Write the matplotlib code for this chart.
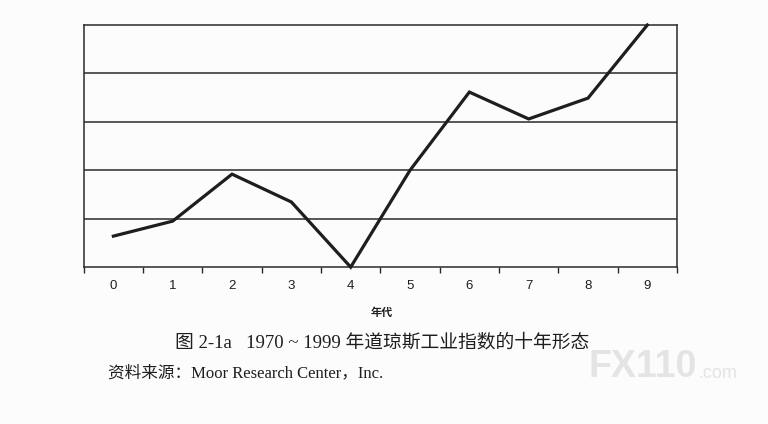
import matplotlib.pyplot as plt
import numpy as np

# Decade pattern of the Dow (index 0-100 scale)
decades = [0, 1, 2, 3, 4, 5, 6, 7, 8, 9]
values = [12.8, 19.0, 38.4, 26.9, 0.0, 40.0, 72.3, 61.2, 69.8, 100.0]
grid_levels = [20, 40, 60, 80]

caption = '图 2-1a   1970 ~ 1999 年道琼斯工业指数的十年形态'
source = '资料来源：Moor Research Center，Inc.'
xlabel = '年代'

plt.rcParams['font.family'] = ['Liberation Sans', 'Noto Sans CJK SC', 'DejaVu Sans']

fig = plt.figure(figsize=(7.68, 4.24), dpi=100)
fig.patch.set_facecolor('#fcfcfc')
ax = fig.add_axes([0.109, 0.370, 0.7725, 0.571])
ax.set_facecolor('#fcfcfc')

# category style x axis: points sit in the middle of each slot
xpos = np.array(decades) + 0.5
ax.plot(xpos, values, color='#1e1e1e', lw=2.3, solid_joinstyle='miter', clip_on=False, zorder=3)

for g in grid_levels:
    ax.axhline(g, color='#2a2a2a', lw=1.1, zorder=1)

ax.set_xlim(0, 10)
ax.set_ylim(0, 100)
ax.set_xticks(np.arange(0, 11))
ax.set_xticklabels([])
ax.set_xticks(xpos, minor=True)
ax.set_xticklabels([str(d) for d in decades], minor=True, fontsize=9.5, color='#1e1e1e')
ax.tick_params(axis='x', which='major', direction='out', length=4.5, width=1.0, color='#2a2a2a')
ax.tick_params(axis='x', which='minor', length=0, pad=9.5)
ax.set_yticks([])
for s in ax.spines.values():
    s.set_color('#2a2a2a')
    s.set_linewidth(1.1)

fig.text(382 / 768, 1 - 313 / 424, xlabel, fontsize=8, fontweight='bold',
         ha='center', va='center', color='#1e1e1e')

serif = ['Liberation Serif', 'Noto Sans CJK SC']
fig.text(382 / 768, 1 - 343 / 424, caption, fontsize=13.5, family=serif,
         ha='center', va='center', color='#1e1e1e')
fig.text(108 / 768, 1 - 373 / 424, source, fontsize=12, family=serif,
         ha='left', va='center', color='#1e1e1e')

# faint watermark from the scan
fig.text(643 / 768, 1 - 367 / 424, 'FX110', fontsize=27, fontweight='bold',
         ha='center', va='center', color='#e4e4e4', zorder=0)
fig.text(718 / 768, 1 - 374 / 424, '.com', fontsize=13,
         ha='center', va='center', color='#e4e4e4', zorder=0)

fig.savefig('out.png', dpi=100, facecolor=fig.get_facecolor())
